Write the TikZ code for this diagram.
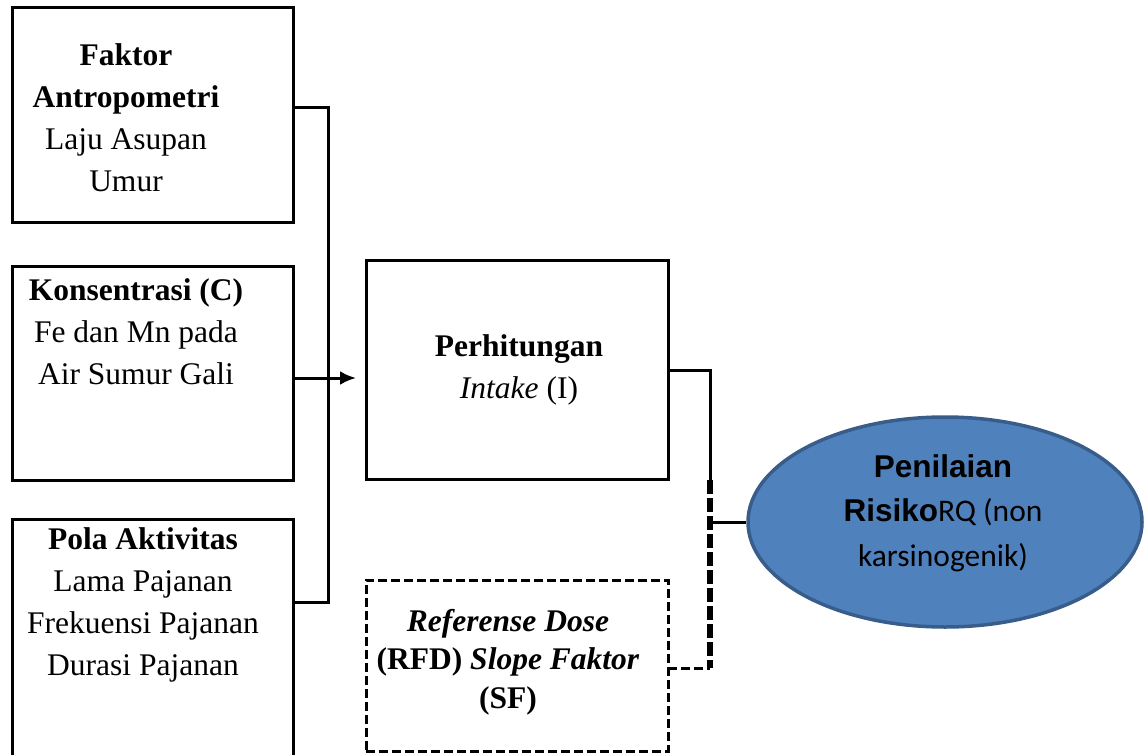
\documentclass[tikz,border=0pt]{standalone}
\usepackage{fontspec}
\setmainfont{Liberation Serif}
\newfontfamily\calibrifont{Carlito}
\newfontfamily\arialfont{Liberation Sans}
\usetikzlibrary{arrows.meta,shapes.geometric}
\definecolor{riskfill}{HTML}{4F81BD}
\definecolor{riskline}{HTML}{385D8A}
\begin{document}
\begin{tikzpicture}[x=1pt,y=-1pt,
  stagebox/.style={draw, line width=3pt, inner sep=0pt, outer sep=0pt},
  refbox/.style={draw, line width=3pt, dash pattern=on 9pt off 4pt, inner sep=0pt, outer sep=0pt},
  label/.style={align=center, inner sep=0pt, font=\fontsize{31.5}{42}\selectfont},
  conn/.style={line width=3pt},
  thickdash/.style={line width=5.5pt, dash pattern=on 14pt off 4pt},
  thindash/.style={line width=3pt, dash pattern=on 9pt off 4pt}]
\useasboundingbox (0,0) rectangle (1147,754);

% input boxes
\node[stagebox, minimum width=281, minimum height=214] (b1) at (152.5,115) {};
\node[stagebox, minimum width=281, minimum height=214] (b2) at (152.5,373) {};
\node[stagebox, minimum width=281, minimum height=260] (b3) at (152.5,649) {};
\node[label] (t1) at (126,118) {\textbf{Faktor}\\\textbf{Antropometri}\\Laju Asupan\\Umur};
\node[label] (t2) at (136,332) {\textbf{Konsentrasi (C)}\\Fe dan Mn pada\\Air Sumur Gali};
\node[label] (t3) at (143,605) {\textbf{Pola Aktivitas}\\Lama Pajanan\\Frekuensi Pajanan\\Durasi Pajanan};

% intake calculation
\node[stagebox, minimum width=302, minimum height=219] (perh) at (517,369.5) {};
\node[label] (tp) at (519,370) {\textbf{Perhitungan}\\\textit{Intake} (I)};

% reference dose / slope factor
\node[refbox, minimum width=302, minimum height=171] (rfd) at (517,665.5) {};
\node[label, font=\fontsize{31.5}{38.5}\selectfont] (tr) at (508,662)
  {\textbf{\textit{Referense Dose}}\\\textbf{(RFD) \textit{Slope Faktor}}\\\textbf{(SF)}};

% risk assessment
\node[ellipse, draw=riskline, fill=riskfill, line width=3.5pt, minimum width=394, minimum height=210, inner sep=0pt] (risk) at (945,522) {};
\node[label, font=\calibrifont\fontsize{31.5}{44.5}\selectfont] (tk) at (943,513)
  {{\arialfont\bfseries Penilaian}\\{\arialfont\bfseries Risiko}RQ (non\\karsinogenik)};

% connectors
\coordinate (ja) at (328,108);
\coordinate (jb) at (328,602);
\draw[conn] (b1.east |- ja) -- (ja) -- (jb) -- (b3.east |- jb);
\draw[conn, -{Latex[length=16pt,width=14pt]}, shorten >=10pt] (b2.east |- 0,378) -- (perh.west |- 0,378);

\coordinate (jc) at (710,370);
\coordinate (jd) at (710,480);
\coordinate (je) at (710,668);
\coordinate (jf) at (710,522);
\draw[conn] (perh.east |- jc) -- (jc) -- (jd);
\draw[thickdash] (jd) -- (je);
\draw[thindash] (rfd.east |- je) -- (je);
\draw[conn] (jf) -- (risk.west);
\end{tikzpicture}
\end{document}
